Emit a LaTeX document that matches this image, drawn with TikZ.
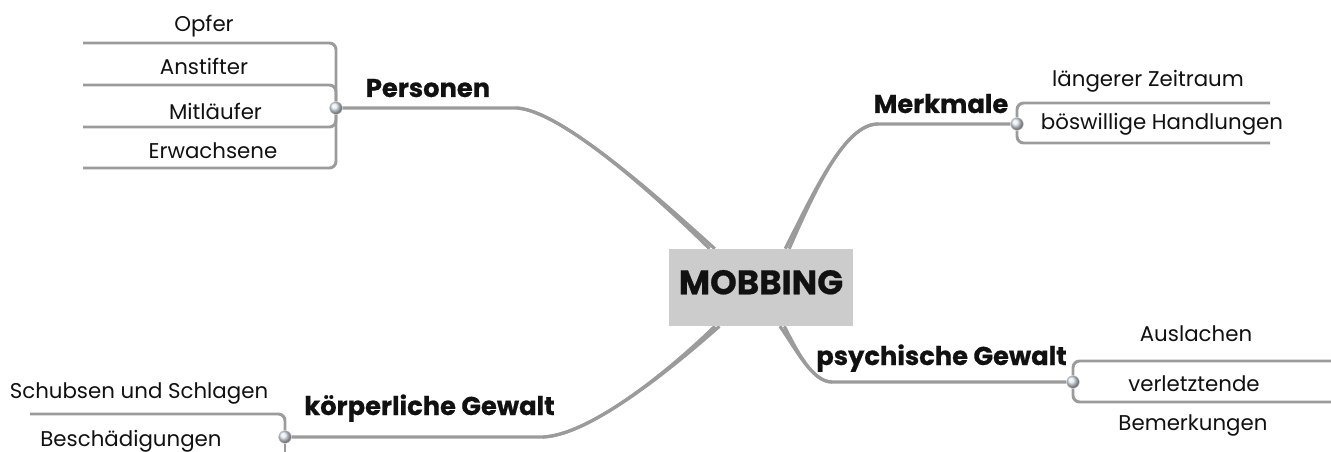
\documentclass[tikz,border=0pt]{standalone}
\usepackage{fontspec}
\setmainfont{Poppins}
\newfontface\heavy{Poppins Bold}[FakeBold=0.6]
\usetikzlibrary{backgrounds}

\definecolor{linegray}{RGB}{155,155,155}
\definecolor{boxgray}{RGB}{204,204,204}
\definecolor{inkblack}{RGB}{17,17,17}
\definecolor{knobblue}{RGB}{226,233,241}

\tikzset{
  leaf/.style={anchor=base, inner sep=0pt, text=inkblack, font=\fontsize{16}{19}\selectfont},
  topic/.style={anchor=base, inner sep=0pt, text=inkblack, font=\fontsize{19.3}{22}\heavy},
  knob/.style={circle, inner sep=0pt, minimum size=9.5pt, draw=gray!45, ball color=knobblue},
  branch/.style={draw=linegray, line width=2.4pt},
  twig/.style={draw=linegray, line width=2.2pt, rounded corners=5pt},
}

\begin{document}
\begin{tikzpicture}[x=0.75pt, y=-0.75pt]
  \useasboundingbox (0,0) rectangle (1331,452);

  % centre
  \node[fill=boxgray, minimum width=138pt, minimum height=57.75pt, inner sep=0pt,
        text depth=8pt, text=inkblack, font=\fontsize{25.5}{30}\heavy]
        (mob) at (761,287.5) {MOBBING};

  % Personen
  \node[knob] (pc) at (336,108) {};
  \node[topic] (pers) at (428,97) {Personen};
  \node[leaf] (opfer) at (204,32) {Opfer};
  \node[leaf] (anst) at (204,75) {Anstifter};
  \node[leaf] (mitl) at (215.5,120) {Mitläufer};
  \node[leaf] (erw) at (213,159) {Erwachsene};
  \coordinate (p1) at (83,43);
  \coordinate (p2) at (83,85);
  \coordinate (p3) at (83,127);
  \coordinate (p4) at (83,168);
  \coordinate (pk) at (517,108);

  % Merkmale
  \node[knob] (mc) at (1017,124) {};
  \node[topic] (merk) at (941,113) {Merkmale};
  \node[leaf] (laeng) at (1148,87) {längerer Zeitraum};
  \node[leaf] (bosw) at (1162,130) {böswillige Handlungen};
  \coordinate (m1) at (1270,103);
  \coordinate (m2) at (1270,143);
  \coordinate (mk) at (878,124);

  % psychische Gewalt
  \node[knob] (sc) at (1073,382) {};
  \node[topic] (psy) at (941.5,365) {psychische Gewalt};
  \node[leaf] (ausl) at (1196,341) {Auslachen};
  \node[leaf] (verl) at (1194,391) {verletztende};
  \node[leaf] (bem) at (1193,430) {Bemerkungen};
  \coordinate (s1) at (1336,361);
  \coordinate (s2) at (1336,402);
  \coordinate (sk) at (832,382);

  % koerperliche Gewalt
  \node[knob] (kc) at (285,437) {};
  \node[topic] (koer) at (429.5,415) {körperliche Gewalt};
  \node[leaf] (schub) at (139,398) {Schubsen und Schlagen};
  \node[leaf] (besch) at (131,446) {Beschädigungen};
  \coordinate (k1) at (30,414);
  \coordinate (k2) at (285,458);
  \coordinate (kk) at (543,437);

  \begin{pgfonlayer}{background}
    \foreach \p in {p1,p2,p3,p4} \draw[twig] (\p) -| (pc);
    \foreach \m in {m1,m2} \draw[twig] (\m) -| (mc);
    \foreach \s in {s1,s2} \draw[twig] (\s) -| (sc);
    \draw[twig] (k1) -| (kc);
    \draw[twig] (kc) -- (k2);

    % main branches, drawn twice for a wider end at the box
    \draw[branch] (pc) -- (pk) .. controls (560,111) and (650,190) .. (mob.143);
    \draw[branch] (pk) .. controls (560,111) and (650,190) .. (mob.140);
    \draw[branch] (mc) -- (mk) .. controls (845,124) and (815,190) .. (mob.58);
    \draw[branch] (mk) .. controls (845,124) and (815,190) .. (mob.54);
    \draw[branch] (sc) -- (sk) .. controls (812,382) and (796,349) .. (mob.296);
    \draw[branch] (sk) .. controls (812,382) and (796,349) .. (mob.301);
    \draw[branch] (kc) -- (kk) .. controls (590,435) and (670,370) .. (mob.223);
    \draw[branch] (kk) .. controls (590,435) and (670,370) .. (mob.220);
  \end{pgfonlayer}
\end{tikzpicture}
\end{document}
